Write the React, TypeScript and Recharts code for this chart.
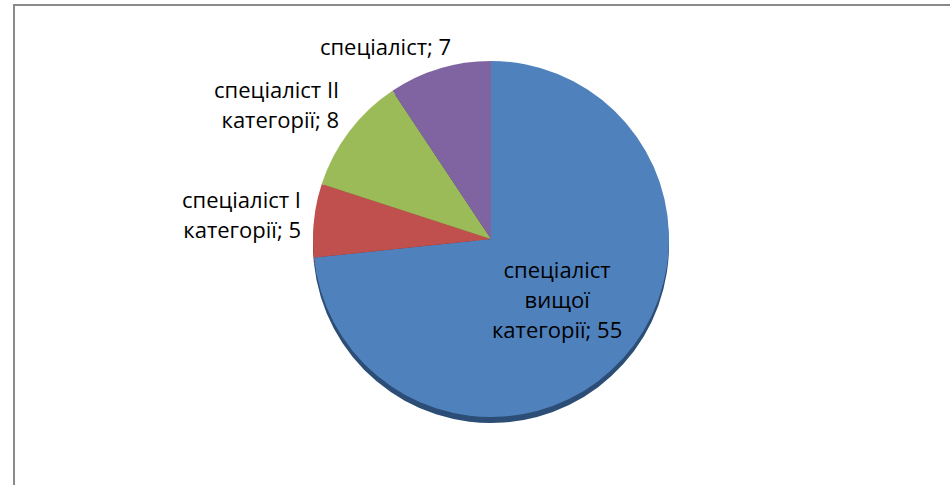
import { Cell, Pie, PieChart } from "recharts";

const categories = [
  "спеціаліст вищої категорії",
  "спеціаліст I категорії",
  "спеціаліст II категорії",
  "спеціаліст",
];
const counts = [55, 5, 8, 7];
const colors = ["#4f81bd", "#c0504d", "#9bbb59", "#8064a2"];
const sideColors = ["#2c4d75", "#772c2a", "#5f7530", "#4d3b62"];

const data = categories.map((name, i) => ({ name, value: counts[i] }));

const RADIAN = Math.PI / 180;
const CX = 476;
const CY = 233;
const R = 178;

// wrap label text the way the source chart does (about 13 chars per line)
function wrap(text: string, max = 13) {
  const words = text.split(" ");
  const lines: string[] = [];
  let cur = "";
  words.forEach((w) => {
    const next = cur ? `${cur} ${w}` : w;
    if (next.length > max && cur) {
      lines.push(cur);
      cur = w;
    } else {
      cur = next;
    }
  });
  if (cur) lines.push(cur);
  return lines;
}

// nudge of each outside label from the slice's outer mid point
const nudges: Record<number, { dx: number; dy: number; anchor: string }> = {
  1: { dx: -13, dy: -6, anchor: "end" },
  2: { dx: -10, dy: -27, anchor: "end" },
  3: { dx: -54, dy: -23, anchor: "middle" },
};

function renderLabel(props: any) {
  const { cx, cy, midAngle, outerRadius, index, value } = props;
  const name = props.payload?.name ?? props.name;
  const cos = Math.cos(-midAngle * RADIAN);
  const sin = Math.sin(-midAngle * RADIAN);
  const lines = wrap(`${name}; ${value}`);
  let x: number;
  let y: number;
  let anchor = "middle";
  if (index === 0) {
    x = cx + outerRadius * 0.5 * cos;
    y = cy + outerRadius * 0.5 * sin;
  } else {
    const n = nudges[index];
    x = cx + outerRadius * cos + n.dx;
    y = cy + outerRadius * sin + n.dy;
    anchor = n.anchor;
  }
  const lh = 30;
  const top = y - ((lines.length - 1) * lh) / 2;
  return (
    <text
      key={`lbl-${index}`}
      x={x}
      y={top}
      textAnchor={anchor as any}
      dominantBaseline="central"
      fill="#000"
      fontSize={22}
      fontFamily="'Open Sans', sans-serif"
    >
      {lines.map((l, i) => (
        <tspan key={i} x={x} y={top + i * lh}>
          {l}
        </tspan>
      ))}
    </text>
  );
}

export default function App() {
  return (
    <div
      style={{
        position: "absolute",
        left: 13,
        top: 4,
        width: 935,
        height: 481,
        border: "2px solid #8a8a8a",
        background: "#fff",
      }}
    >
      <PieChart width={935} height={481} margin={{ top: 0, right: 0, bottom: 0, left: 0 }}>
        <defs>
          {colors.map((c, i) => (
            <radialGradient
              key={c}
              id={`grad-${i}`}
              gradientUnits="userSpaceOnUse"
              cx={CX}
              cy={CY}
              r={R}
            >
              <stop offset="0%" stopColor={c} stopOpacity={1} />
              <stop offset="80%" stopColor={c} stopOpacity={1} />
              <stop offset="100%" stopColor={sideColors[i]} stopOpacity={0.35} />
            </radialGradient>
          ))}
        </defs>
        <Pie
          data={data}
          dataKey="value"
          nameKey="name"
          cx={CX}
          cy={CY + 6}
          outerRadius={R}
          startAngle={90}
          endAngle={-270}
          stroke="none"
          isAnimationActive={false}
          label={false}
          labelLine={false}
        >
          {data.map((d, i) => (
            <Cell key={d.name} fill={sideColors[i]} />
          ))}
        </Pie>
        <Pie
          data={data}
          dataKey="value"
          nameKey="name"
          cx={CX}
          cy={CY}
          outerRadius={R}
          startAngle={90}
          endAngle={-270}
          stroke="none"
          isAnimationActive={false}
          label={renderLabel}
          labelLine={false}
        >
          {data.map((d, i) => (
            <Cell key={d.name} fill={colors[i]} />
          ))}
        </Pie>
      </PieChart>
    </div>
  );
}
